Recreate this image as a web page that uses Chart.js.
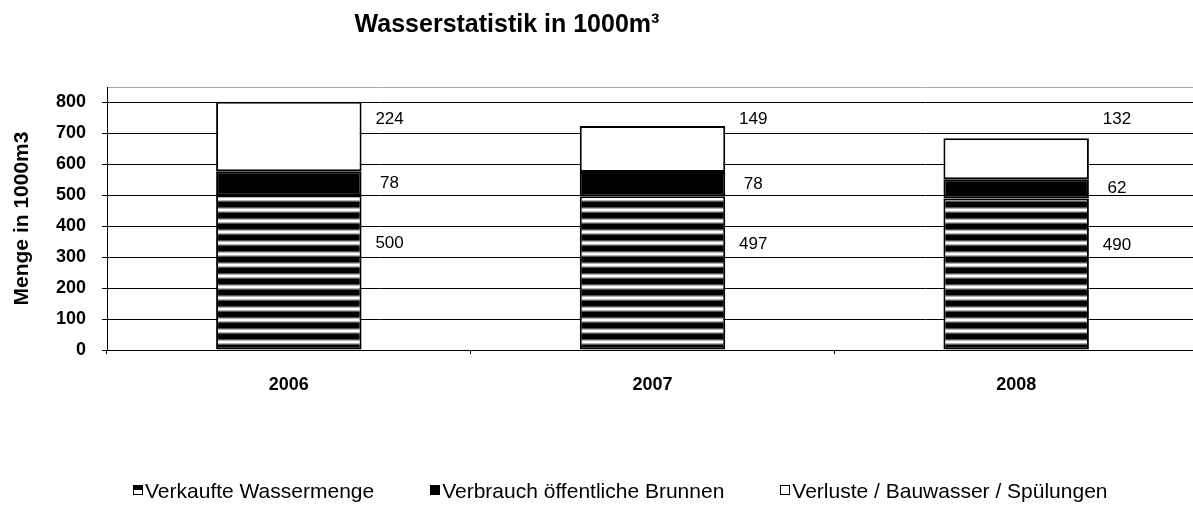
<!DOCTYPE html>
<html><head><meta charset="utf-8">
<script src="https://cdn.jsdelivr.net/npm/chart.js@4"></script>
<style>html,body{margin:0;padding:0;overflow:hidden;background:#fff}#wrap{width:1193px;height:505px;overflow:hidden}</style>
</head><body><div id="wrap"><canvas id="c" width="1198" height="505"></canvas></div>
<script>
const categories = ['2006', '2007', '2008'];
const verkaufteWassermenge = [500, 497, 490];
const verbrauchBrunnen = [78, 78, 62];
const verlusteBauwasser = [224, 149, 132];
const seriesNames = ['Verkaufte Wassermenge', 'Verbrauch öffentliche Brunnen', 'Verluste / Bauwasser / Spülungen'];
const yTickValues = [0, 100, 200, 300, 400, 500, 600, 700, 800];
const yAxisMax = 850;
const chartTitle = 'Wasserstatistik in 1000m³';
const yAxisTitle = 'Menge in 1000m3';

const FONT = "'Liberation Sans', Arial, sans-serif";

const canvas = document.getElementById('c');
const ctx0 = canvas.getContext('2d');

function stripePattern(ctx) {
  const c = document.createElement('canvas'); c.width = 1; c.height = 11;
  const g = c.getContext('2d');
  const rows = ['#000','#000','#000','#000','#000','#555','#b0b0b0','#fff','#fff','#b0b0b0','#555'];
  rows.forEach((col, i) => { g.fillStyle = col; g.fillRect(0, i, 1, 1); });
  const p = ctx.createPattern(c, 'repeat');
  p.setTransform(new DOMMatrix().translate(0, 4));
  return p;
}
const stripes = stripePattern(ctx0);

const overlay = {
  id: 'overlay',
  afterDraw(chart) {
    const ctx = chart.ctx;
    const y = chart.scales.y;
    ctx.save();
    // title
    ctx.fillStyle = '#000';
    ctx.font = "bold 25px " + FONT;
    ctx.textAlign = 'center';
    ctx.textBaseline = 'alphabetic';
    ctx.fillText(chartTitle, 507, 32);

    // data labels
    ctx.font = "17px " + FONT;
    ctx.textAlign = 'center';
    ctx.textBaseline = 'middle';
    chart.data.datasets.forEach((ds, di) => {
      const meta = chart.getDatasetMeta(di);
      meta.data.forEach((bar, i) => {
        const v = ds.data[i];
        let yy;
        if (di === 0) yy = y.getPixelForValue(v * 0.69);
        else if (di === 1) yy = y.getPixelForValue(verkaufteWassermenge[i] + v / 2);
        else yy = y.getPixelForValue(745);
        const xx = bar.x + bar.width / 2 + 28;
        ctx.fillText(String(v), xx, yy);
      });
    });

    // legend
    ctx.font = "21px " + FONT;
    ctx.textAlign = 'left';
    ctx.textBaseline = 'alphabetic';
    const box = 10, gapText = 2, gapItem = 56;
    const widths = seriesNames.map(s => box + gapText + ctx.measureText(s).width);
    const total = widths.reduce((a, b) => a + b, 0) + gapItem * (seriesNames.length - 1);
    let x = Math.round(620 - total / 2);
    const baseY = 498, boxTop = 485;
    seriesNames.forEach((s, i) => {
      ctx.lineWidth = 1;
      ctx.strokeStyle = '#000';
      const bx = Math.round(x);
      if (i === 0) {
        ctx.fillStyle = '#fff'; ctx.fillRect(bx, boxTop, box, box);
        ctx.fillStyle = '#000'; ctx.fillRect(bx, boxTop, box, box / 2);
        ctx.strokeRect(bx + 0.5, boxTop + 0.5, box - 1, box - 1);
      } else if (i === 1) {
        ctx.fillStyle = '#000'; ctx.fillRect(bx, boxTop, box, box);
      } else {
        ctx.fillStyle = '#fff'; ctx.fillRect(bx, boxTop, box, box);
        ctx.strokeRect(bx + 0.5, boxTop + 0.5, box - 1, box - 1);
      }
      ctx.fillStyle = '#000';
      ctx.fillText(s, x + box + gapText, baseY);
      x += widths[i] + gapItem;
    });
    ctx.restore();
  }
};

new Chart(canvas, {
  type: 'bar',
  data: {
    labels: categories,
    datasets: [
      { label: seriesNames[0], data: verkaufteWassermenge, backgroundColor: stripes, borderColor: '#000', borderWidth: 2, borderSkipped: false },
      { label: seriesNames[1], data: verbrauchBrunnen, backgroundColor: '#000', borderColor: '#000', borderWidth: 2, borderSkipped: false },
      { label: seriesNames[2], data: verlusteBauwasser, backgroundColor: '#fff', borderColor: '#000', borderWidth: 2, borderSkipped: false }
    ]
  },
  options: {
    responsive: false,
    animation: false,
    events: [],
    layout: { padding: { top: 87, left: 0, right: 0, bottom: 0 } },
    datasets: { bar: { categoryPercentage: 1, barPercentage: 0.4 } },
    plugins: { legend: { display: false }, title: { display: false }, tooltip: { enabled: false } },
    scales: {
      x: {
        stacked: true,
        offset: true,
        grid: { offset: true, drawOnChartArea: false, drawTicks: true, tickLength: 4, color: '#000' },
        border: { color: '#000', width: 1 },
        ticks: { font: { family: FONT, size: 18, weight: 'bold' }, color: '#000', padding: 20, maxRotation: 0 },
        afterFit(s) { s.height = 155; }
      },
      y: {
        stacked: true,
        min: 0,
        max: yAxisMax,
        afterBuildTicks(s) { s.ticks = yTickValues.concat([yAxisMax]).map(v => ({ value: v })); },
        ticks: { font: { family: FONT, size: 18, weight: 'bold' }, color: '#000', padding: 16,
                 callback: v => (v > 800 ? '' : v) },
        grid: { color: c => (c.tick && c.tick.value > 800 ? '#a8a8a8' : '#000'),
                tickColor: c => (c.tick && c.tick.value > 800 ? 'rgba(0,0,0,0)' : '#000'),
                tickLength: 5, drawTicks: true },
        border: { color: '#000', width: 1 },
        title: { display: true, text: yAxisTitle, color: '#000', font: { family: FONT, size: 21, weight: 'bold' }, padding: { top: 10, bottom: 0 } },
        afterFit(s) { s.width = 107; }
      }
    }
  },
  plugins: [overlay]
});
</script></body></html>
